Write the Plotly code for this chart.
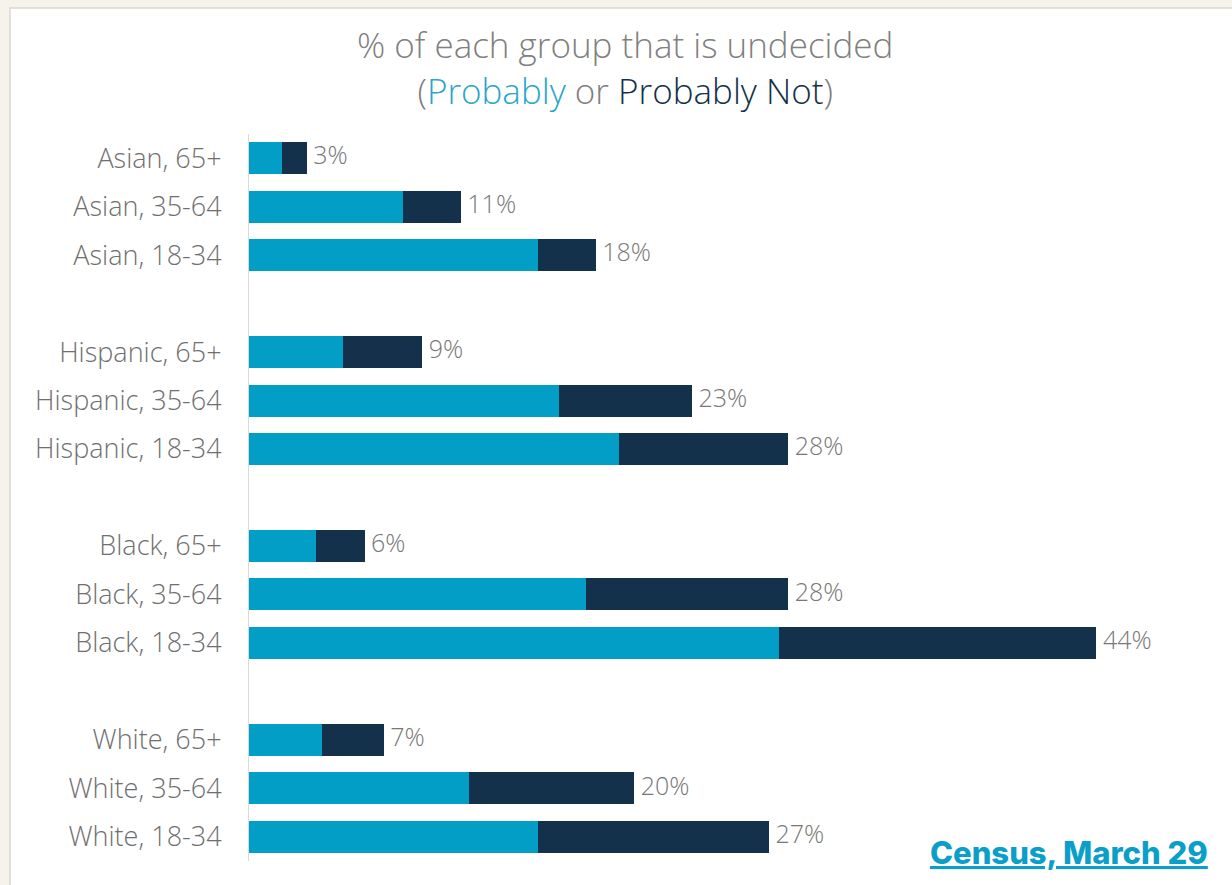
import plotly.graph_objects as go

# Survey groups, top to bottom
groups = [
    "Asian, 65+", "Asian, 35-64", "Asian, 18-34",
    "Hispanic, 65+", "Hispanic, 35-64", "Hispanic, 18-34",
    "Black, 65+", "Black, 35-64", "Black, 18-34",
    "White, 65+", "White, 35-64", "White, 18-34",
]
# Total % undecided per group (shown as labels)
undecided_total = [3, 11, 18, 9, 23, 28, 6, 28, 44, 7, 20, 27]
# Share answering "Probably"
probably = [1.7, 8.0, 15.0, 4.9, 16.1, 19.2, 3.5, 17.5, 27.5, 3.8, 11.4, 15.0]
# Remainder answering "Probably Not"
probably_not = [round(t - p, 1) for t, p in zip(undecided_total, probably)]

LIGHT = "#029ec6"
DARK = "#13314a"
GRAY = "#6f6f6f"
FONT = "Open Sans"

# Row slots: one blank slot between each race group
rows = [i + i // 3 for i in range(len(groups))]

W, H = 1232, 885
ML, MR, MT, MB = 249, 20, 134, 24
pw, ph = W - ML - MR, H - MT - MB


def px_x(px):
    return (px - ML) / pw


def px_y(py):
    return (H - MB - py) / ph


fig = go.Figure()
fig.add_trace(go.Bar(
    y=rows, x=probably, orientation="h", marker=dict(color=LIGHT, line_width=0),
    width=0.66, name="Probably", hoverinfo="skip",
))
fig.add_trace(go.Bar(
    y=rows, x=probably_not, orientation="h", marker=dict(color=DARK, line_width=0),
    width=0.66, name="Probably Not", hoverinfo="skip",
))
fig.add_trace(go.Scatter(
    y=rows, x=undecided_total, mode="text",
    text=[f" {v}%" for v in undecided_total], textposition="middle right",
    textfont=dict(family=FONT, size=25, color="#787878", weight=300), hoverinfo="skip",
    cliponaxis=False,
))

# White card on a warm page background
fig.add_shape(
    type="rect", xref="paper", yref="paper",
    x0=px_x(10), x1=px_x(1240), y0=px_y(8), y1=px_y(900),
    fillcolor="white", line=dict(color="#dcd7d0", width=1.5), layer="below",
)

fig.add_annotation(
    xref="paper", yref="paper", x=px_x(625), y=px_y(67),
    text=("% of each group that is undecided<br>"
          f"(<span style='color:#2aa6c9'>Probably</span> or "
          f"<span style='color:{DARK}'>Probably Not</span>)"),
    showarrow=False, align="center", xanchor="center", yanchor="middle",
    font=dict(family=FONT, size=35, color="#808080", weight=300),
)

fig.add_annotation(
    xref="paper", yref="paper", x=px_x(1210), y=px_y(852),
    text="<u>Census, March 29</u>",
    showarrow=False, xanchor="right", yanchor="middle",
    font=dict(family="Inter", size=31, color="#0a9fc8", weight=800),
)

fig.update_layout(
    width=W, height=H, barmode="stack", showlegend=False,
    margin=dict(l=ML, r=MR, t=MT, b=MB),
    paper_bgcolor="#f6f2ec", plot_bgcolor="white",
    xaxis=dict(range=[0, 50], visible=False, fixedrange=True),
    yaxis=dict(
        range=[rows[-1] + 0.5, -0.5], tickvals=rows, ticktext=groups,
        showgrid=False, zeroline=False, showline=True, linecolor="#d9d9d9",
        linewidth=1, ticks="", ticklabelstandoff=21,
        tickfont=dict(family=FONT, size=27, color=GRAY, weight=300), fixedrange=True,
    ),
)

fig.write_html("out.html", config={"displayModeBar": False})
